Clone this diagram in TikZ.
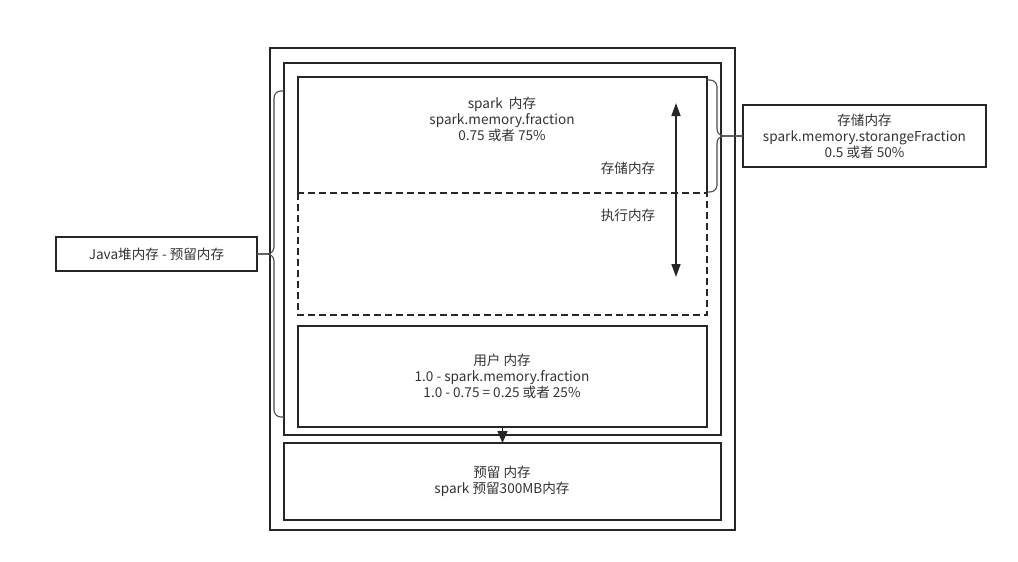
\documentclass[tikz,border=0pt]{standalone}
\usepackage{fontspec}
\setmainfont{Noto Sans CJK SC}
\usetikzlibrary{arrows.meta}
\begin{document}
\begin{tikzpicture}[x=1pt,y=-1pt,
  frame/.style={draw=black!85, line width=1.6pt, inner sep=0pt, outer sep=0pt, anchor=north west},
  lbl/.style={align=center, font=\fontsize{13.6}{16}\selectfont, text=black!80, inner sep=0pt},
  bracepath/.style={draw=black!70, line width=1.1pt, rounded corners=7pt},
  darr/.style={draw=black!85, line width=1.6pt, {Triangle[width=9pt,length=13pt]}-{Triangle[width=9pt,length=13pt]}}]
\useasboundingbox (0,0) rectangle (1018,562);
% frames
\node[frame, minimum width=465pt, minimum height=482pt] (outer) at (270,48) {};
\node[frame, minimum width=437pt, minimum height=372pt] (cont) at (284,63) {};
\node[inner sep=0pt, outer sep=0pt, anchor=north west, minimum width=409pt, minimum height=238pt] (spark) at (298,77) {};
\draw[black!85, line width=1.6pt] (298,193) -- (spark.north west) -- (spark.north east) -- (707,193);
\draw[black!85, line width=1.4pt, dashed, dash pattern=on 7pt off 4pt] (298,193) rectangle (spark.south east);
\node[frame, minimum width=409pt, minimum height=101pt] (user) at (298,326) {};
\node[frame, minimum width=437pt, minimum height=77pt] (res) at (284,443) {};
\node[frame, minimum width=201pt, minimum height=34pt] (java) at (56,237) {};
\node[frame, minimum width=243pt, minimum height=62pt] (store) at (743,105) {};
% texts
\node[lbl] (t1) at (502,119) {spark\ \ 内存\\spark.memory.fraction\\0.75 或者 75\%};
\node[lbl] (t2) at (628,168) {存储内存};
\node[lbl] (t3) at (628,215) {执行内存};
\node[lbl] (t4) at (502,376) {用户 内存\\1.0 - spark.memory.fraction\\1.0 - 0.75 = 0.25 或者 25\%};
\node[lbl] (t5) at (502,481) {预留 内存\\spark 预留300MB内存};
\node[lbl] at (java.center) {Java堆内存 - 预留内存};
\node[lbl] at (store.center) {存储内存\\spark.memory.storangeFraction\\0.5 或者 50\%};
% arrows
\coordinate (atop) at (676,103);
\coordinate (abot) at (676,277);
\draw[darr] (atop) -- (abot);
\draw[draw=black!85, line width=1.4pt, -{Triangle[width=10pt,length=12pt]}] (user.south) -- (res.north);
% braces
\coordinate (lb) at (java.east);
\draw[bracepath] (284,91) -| (274,254) -- (lb);
\draw[bracepath] (lb) -| (274,417) -- (284,417);
\coordinate (rb) at (store.west);
\draw[bracepath] (707,80) -| (717,136) -- (rb);
\draw[bracepath] (rb) -| (717,192) -- (707,192);
\end{tikzpicture}
\end{document}
